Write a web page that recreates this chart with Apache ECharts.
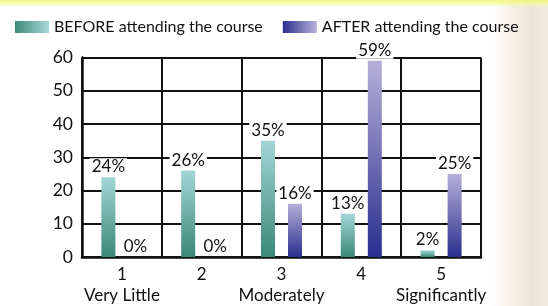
<!DOCTYPE html>
<html><head><meta charset="utf-8">
<script src="https://cdn.jsdelivr.net/npm/echarts@6/dist/echarts.min.js"></script>
<style>
html,body{margin:0;padding:0;width:548px;height:306px;overflow:hidden;}
body{background:
 linear-gradient(to bottom, rgba(240,246,120,0.9) 0px, rgba(246,250,170,0.6) 5px, rgba(255,255,255,0) 7px),
 linear-gradient(to right, #ffffff 0px, #ffffff 492px, #f5efe5 512px, #ece4d8 532px, #f1eadf 548px);}
#c{width:548px;height:306px;}
</style></head><body>
<div id="c"></div>
<script>
const categories = ['1\nVery Little', '2', '3\nModerately', '4', '5\nSignificantly'];
const beforeValues = [24, 26, 35, 13, 2];
const afterValues = [0, 0, 16, 59, 25];
const seriesNames = ['BEFORE attending the course', 'AFTER attending the course'];

const FONT = 'Lato';
function vgrad(top, bottom){return new echarts.graphic.LinearGradient(0,0,0,1,[{offset:0,color:top},{offset:1,color:bottom}]);}
function hgrad(left, right){return new echarts.graphic.LinearGradient(0,0,1,0,[{offset:0,color:left},{offset:1,color:right}]);}

const chart = echarts.init(document.getElementById('c'), null, {renderer:'canvas'});
const label = {show:true, position:'top', distance:2, formatter:'{c}%', color:'#111', fontFamily:FONT, fontSize:17, backgroundColor:'#fff', padding:[0,2,0,2]};
chart.setOption({
  animation:false,
  backgroundColor:'transparent',
  legend:{
    left:10, top:14, itemWidth:34, itemHeight:12, itemGap:20,
    textStyle:{fontFamily:FONT, fontSize:16, color:'#111'},
    data:[
      {name:seriesNames[0], icon:'rect', itemStyle:{color:hgrad('#3c8a78','#a8dada')}},
      {name:seriesNames[1], icon:'rect', itemStyle:{color:hgrad('#2b2f8f','#b8b2dc')}}
    ]
  },
  grid:{left:82, right:67, top:57.5, bottom:47},
  xAxis:{
    type:'category', data:categories, boundaryGap:true,
    axisLine:{lineStyle:{color:'#111', width:2.5}},
    axisTick:{show:false},
    splitLine:{show:true, lineStyle:{color:'#111', width:2}},
    axisLabel:{fontFamily:FONT, fontSize:17, color:'#111', lineHeight:21, margin:7, interval:0}
  },
  yAxis:{
    type:'value', min:0, max:60, interval:10,
    axisLine:{show:true, lineStyle:{color:'#111', width:2.5}},
    axisTick:{show:false},
    splitLine:{lineStyle:{color:'#111', width:2}},
    axisLabel:{fontFamily:FONT, fontSize:17.5, color:'#111', margin:9}
  },
  series:[
    {name:seriesNames[0], type:'bar', data:beforeValues, barWidth:14, barGap:'93%',
     itemStyle:{color:vgrad('#a2d6d6','#3a8876')}, label:label, z:3},
    {name:seriesNames[1], type:'bar', data:afterValues, barWidth:14,
     itemStyle:{color:vgrad('#b6b0da','#2a2e8e')}, label:label, z:3}
  ]
});
</script>
</body></html>
